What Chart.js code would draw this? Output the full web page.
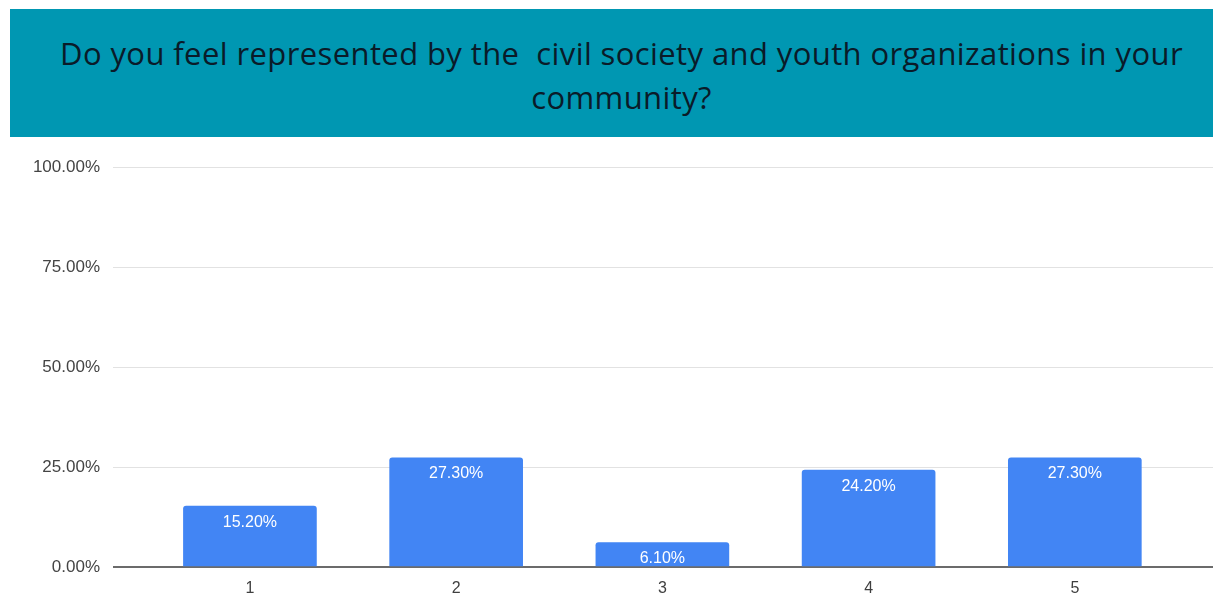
<!DOCTYPE html>
<html>
<head>
<meta charset="utf-8">
<script src="https://cdn.jsdelivr.net/npm/chart.js@4/dist/chart.umd.min.js"></script>
<style>
  html, body { margin: 0; padding: 0; background: #fff; }
  #wrap { position: relative; width: 1213px; height: 595px; overflow: hidden; }
  #chart { position: absolute; left: 0; top: 0; }
  #banner {
    position: absolute; left: 10px; top: 9px; width: 1203px; height: 128px;
    background: #0097b2; box-sizing: border-box; padding: 22px 0 0 20px;
    font-family: "Open Sans", sans-serif; font-size: 31px; line-height: 44px;
    letter-spacing: 0.4px;
    color: #0a1b29; text-align: center; white-space: pre-wrap;
  }
</style>
</head>
<body>
<div id="wrap">
  <canvas id="chart" width="1213" height="595"></canvas>
  <div id="banner">Do you feel represented by the  civil society and youth organizations in your
community?</div>
</div>
<script>
const categories = [1, 2, 3, 4, 5];
const shares = [15.2, 27.3, 6.1, 24.2, 27.3];
const yTicks = [0, 25, 50, 75, 100];

// writes the percentage inside the top of each bar
const barLabels = {
  id: 'barLabels',
  afterDatasetsDraw(chart) {
    const ctx = chart.ctx;
    const meta = chart.getDatasetMeta(0);
    ctx.save();
    ctx.fillStyle = '#ffffff';
    ctx.font = '16px "Liberation Sans", Arial, sans-serif';
    ctx.textAlign = 'center';
    ctx.textBaseline = 'middle';
    meta.data.forEach((bar, i) => {
      ctx.fillText(shares[i].toFixed(2) + '%', bar.x, bar.y + 16);
    });
    ctx.restore();
  }
};

new Chart(document.getElementById('chart'), {
  type: 'bar',
  data: {
    datasets: [{
      data: categories.map((c, i) => ({ x: c, y: shares[i] })),
      backgroundColor: '#4285f4',
      barThickness: 133,
      borderRadius: { topLeft: 3, topRight: 3 },
      borderSkipped: 'bottom'
    }]
  },
  options: {
    responsive: false,
    animation: false,
    layout: { padding: { top: 167, left: 0, right: 0, bottom: 0 } },
    plugins: { legend: { display: false }, tooltip: { enabled: false } },
    scales: {
      x: {
        type: 'linear',
        min: 0.336,
        max: 5.67,
        offset: false,
        grid: { display: false, offset: false },
        border: { display: false },
        afterBuildTicks: (scale) => { scale.ticks = categories.map(v => ({ value: v })); },
        afterFit: (scale) => { scale.height = 28; },
        ticks: {
          color: '#3f3f3f',
          padding: 4,
          maxRotation: 0,
          font: { family: '"Liberation Sans", Arial, sans-serif', size: 16 },
          callback: (v) => String(v)
        }
      },
      y: {
        min: 0,
        max: 100,
        afterBuildTicks: (scale) => { scale.ticks = yTicks.map(v => ({ value: v })); },
        afterFit: (scale) => { scale.width = 113; },
        border: { display: false },
        grid: {
          drawTicks: false,
          color: (c) => c.tick && c.tick.value === 0 ? '#6b6b6b' : '#e2e2e2',
          lineWidth: (c) => c.tick && c.tick.value === 0 ? 2 : 1
        },
        ticks: {
          color: '#444',
          padding: 13,
          font: { family: '"Liberation Sans", Arial, sans-serif', size: 17 },
          callback: (v) => v.toFixed(2) + '%'
        }
      }
    }
  },
  plugins: [barLabels]
});
</script>
</body>
</html>
